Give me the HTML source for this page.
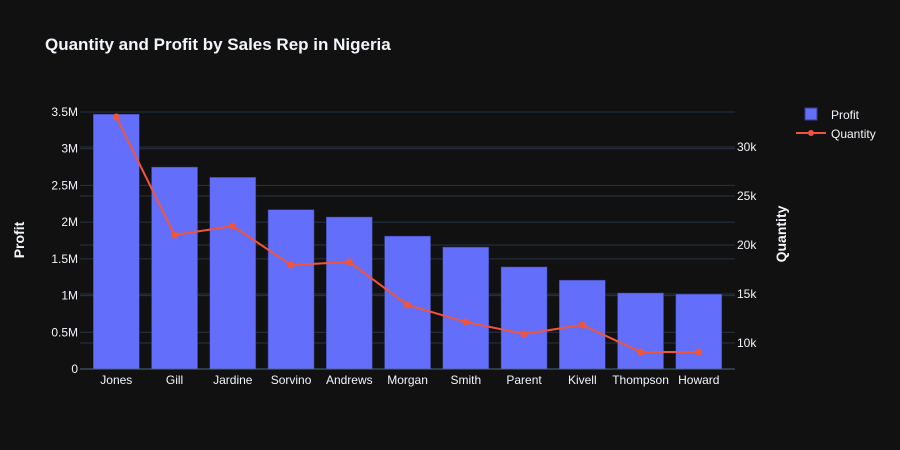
<!DOCTYPE html>
<html><head><meta charset="utf-8"><style>
html,body{margin:0;padding:0;background:#111111;}
svg{display:block;font-family:"Liberation Sans",sans-serif;}
</style></head><body>
<svg id="chart" width="900" height="450">
<rect width="900" height="450" fill="#111111"/>
<text x="45" y="50" fill="#f2f5fa" font-size="17" font-weight="bold">Quantity and Profit by Sales Rep in Nigeria</text>
<g id="grid"></g><g id="bars"></g><g id="line"></g><g id="axes"></g>
<text transform="translate(24,240) rotate(-90)" text-anchor="middle" fill="#f2f5fa" font-size="14" font-weight="bold">Profit</text>
<text transform="translate(786,234) rotate(-90)" text-anchor="middle" fill="#f2f5fa" font-size="14" font-weight="bold">Quantity</text>
<g>
<g><rect x="805" y="108" width="12" height="12" fill="#636efa" stroke="#3a3f8f"/><text x="831" y="119" fill="#f2f5fa" font-size="12">Profit</text></g>
<g><line x1="796" y1="133" x2="826" y2="133" stroke="#ef553b" stroke-width="2"/><circle cx="811" cy="133" r="3" fill="#ef553b"/><text x="831" y="138" fill="#f2f5fa" font-size="12">Quantity</text></g>
</g>
</svg>
<script>
const categories=["Jones","Gill","Jardine","Sorvino","Andrews","Morgan","Smith","Parent","Kivell","Thompson","Howard"];
const profit=[3470000,2750000,2610000,2170000,2070000,1810000,1660000,1390000,1210000,1035000,1020000];
const quantity=[33060,21020,21940,17960,18270,13880,12140,10920,11840,9080,9080];
const leftTicks=[0,500000,1000000,1500000,2000000,2500000,3000000,3500000];
const leftTickLabels=["0","0.5M","1M","1.5M","2M","2.5M","3M","3.5M"];
const rightTicks=[10000,15000,20000,25000,30000];
const rightTickLabels=["10k","15k","20k","25k","30k"];
const NS="http://www.w3.org/2000/svg";
const X0=80,X1=735,Y0=369;
const xC=i=>116.3+i*58.25;
const yL=v=>Y0-v*(257/3500000);
const yR=v=>343-(v-10000)*49/5000;
function mk(t,a,p){const e=document.createElementNS(NS,t);for(const k in a)e.setAttribute(k,a[k]);document.getElementById(p).appendChild(e);return e;}
leftTicks.forEach((v,i)=>{
 if(i>0){const g=mk("line",{x1:X0,x2:X1,y1:yL(v),y2:yL(v),stroke:"#283442","stroke-width":1},"grid");
 
 }
 const t=mk("text",{x:X0-2,y:yL(v)+4,"text-anchor":"end",fill:"#f2f5fa","font-size":12},"axes");t.textContent=leftTickLabels[i];
 
 
});
rightTicks.forEach((v,i)=>{
 const g=mk("line",{x1:X0,x2:X1,y1:yR(v),y2:yR(v),stroke:"#283442","stroke-width":1},"grid");
 
 
 const t=mk("text",{x:X1+2,y:yR(v)+4,fill:"#f2f5fa","font-size":12},"axes");t.textContent=rightTickLabels[i];
 
 
});
const ax=mk("line",{x1:X0,x2:X1,y1:Y0,y2:Y0,stroke:"#506784","stroke-width":1},"axes");


categories.forEach((c,i)=>{
 const b=mk("rect",{x:xC(i)-23,y:yL(profit[i]),width:46,height:Y0-yL(profit[i]),fill:"#636efa",stroke:"#3a3f8f","stroke-width":0.5},"bars");
 
 
 const t=mk("text",{x:xC(i),y:384,"text-anchor":"middle",fill:"#f2f5fa","font-size":12},"axes");t.textContent=c;
 
 
});
const pl=mk("polyline",{points:quantity.map((q,i)=>xC(i)+","+yR(q)).join(" "),fill:"none",stroke:"#ef553b","stroke-width":2},"line");


quantity.forEach((q,i)=>{
 const c=mk("circle",{cx:xC(i),cy:yR(q),r:3.5,fill:"#ef553b"},"line");
 
 
});
</script>
</body></html>
